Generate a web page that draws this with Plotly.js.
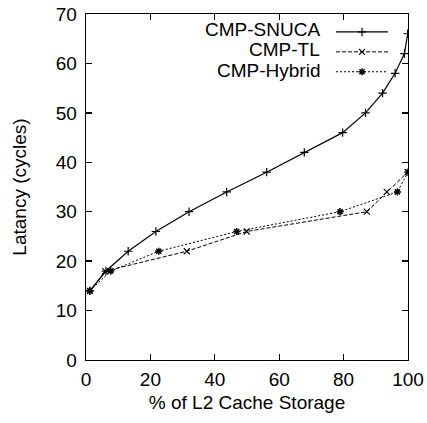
<!DOCTYPE html>
<html><head><meta charset="utf-8">
<script src="https://cdn.plot.ly/plotly-3.0.1.min.js"></script>
<style>html,body{margin:0;padding:0;background:#fff}#chart{width:427px;height:423px}</style>
</head><body><div id="chart"></div>
<script>
const seriesNames = ["CMP-SNUCA", "CMP-TL", "CMP-Hybrid"];
const snucaX = [1.2, 6.2, 13.1, 21.7, 32, 43.7, 56.1, 67.8, 79.7, 86.8, 92.1, 96, 98.9, 99.9];
const snucaY = [14, 18, 22, 26, 30, 34, 38, 42, 46, 50, 54, 58, 62, 66];
const tlX = [1.2, 6, 31.3, 49.9, 87.2, 93.4, 99.9];
const tlY = [14, 18, 22, 26, 30, 34, 38];
const hybridX = [1.2, 7.7, 22.6, 46.8, 78.9, 96.7, 100];
const hybridY = [14, 18, 22, 26, 30, 34, 38];
const xTicks = [0, 20, 40, 60, 80, 100];
const yTicks = [0, 10, 20, 30, 40, 50, 60, 70];

const FONT = "Liberation Sans, Arial, Helvetica, sans-serif";
const traces = [
  {x: snucaX, y: snucaY, name: " ", mode: "lines+markers",
   line: {color: "#000", width: 1.2},
   marker: {symbol: "cross-thin-open", size: 6, color: "#000", line: {color: "#000", width: 1.2}}},
  {x: tlX, y: tlY, name: " ", mode: "lines+markers",
   line: {color: "#000", width: 1, dash: "4px,2px"},
   marker: {symbol: "x-thin-open", size: 6, color: "#000", line: {color: "#000", width: 1.1}}},
  {x: hybridX, y: hybridY, name: " ", mode: "lines+markers",
   line: {color: "#000", width: 1, dash: "2px,2px"},
   marker: {symbol: "asterisk-open", size: 6, color: "#000", line: {color: "#000", width: 1.5}}}
];
const legendRowsPx = [30, 50, 70];
const annotations = seriesNames.map((n, i) => ({
  text: n, xref: "paper", yref: "paper", x: (322 - 86) / 322, y: (360 - legendRowsPx[i]) / 346,
  xanchor: "right", yanchor: "middle", showarrow: false, font: {family: FONT, size: 19, color: "#000"}
}));
const axisCommon = {
  showgrid: false, zeroline: false, showline: true, linecolor: "#000", linewidth: 1.3,
  mirror: "allticks", ticks: "inside", ticklen: 6, tickwidth: 1.3, tickcolor: "#000",
  tickfont: {family: FONT, size: 19, color: "#000"}
};
const layout = {
  width: 427, height: 423,
  margin: {l: 86, r: 19, t: 14, b: 63},
  paper_bgcolor: "#fff", plot_bgcolor: "#fff",
  showlegend: true,
  legend: {x: (331 - 86) / 322, y: (360 - 17) / 346, xanchor: "left", yanchor: "top",
           bgcolor: "rgba(0,0,0,0)", borderwidth: 0, itemwidth: 52,
           font: {family: FONT, size: 13, color: "#000"}, tracegroupgap: 0},
  xaxis: Object.assign({}, axisCommon, {range: [0, 100], tickvals: xTicks, ticklabelstandoff: 2,
    title: {text: "% of L2 Cache Storage", font: {family: FONT, size: 19, color: "#000"}, standoff: 6}}),
  yaxis: Object.assign({}, axisCommon, {range: [0, 70], tickvals: yTicks, ticklabelstandoff: 4,
    title: {text: "Latancy (cycles)", font: {family: FONT, size: 19, color: "#000"}, standoff: 24}}),
  annotations: annotations
};
Plotly.newPlot("chart", traces, layout, {displayModeBar: false, staticPlot: true});
</script></body></html>
